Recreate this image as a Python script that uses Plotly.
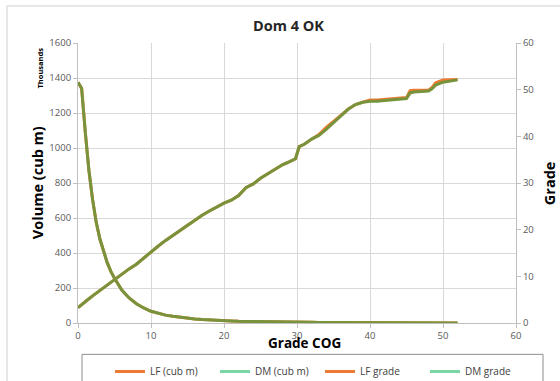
import plotly.graph_objects as go

# ---- data ----
cog = [0, 0.5, 1, 1.5, 2, 2.5, 3, 3.5, 4, 4.5, 5, 6, 7, 8, 9, 10, 11, 12, 13, 14, 15,
       16, 17, 18, 19, 20, 21, 22, 23, 24, 25, 26, 27, 28, 29, 29.8, 30.3, 31, 32, 33,
       34, 35, 36, 37, 38, 39, 40, 41, 42, 43, 44, 45, 45.5, 46, 47, 48, 48.5, 49, 50,
       51, 52]

dm_volume = [1375, 1340, 1090, 870, 705, 575, 480, 410, 345, 295, 255, 188, 143, 110, 86,
             67, 54, 45, 38, 32, 27, 23, 20, 17, 15, 13, 12, 10, 9, 8, 7, 6.5, 6, 5.5, 5,
             4.6, 4.3, 4, 3.6, 3.3, 3, 2.8, 2.6, 2.4, 2.2, 2, 1.9, 1.8, 1.7, 1.6, 1.5, 1.4,
             1.3, 1.2, 1.1, 1, 1, 0.9, 0.8, 0.7, 0.6]
lf_volume = list(dm_volume)

dm_grade = [3.3, 4.0, 4.6, 5.2, 5.8, 6.4, 7.0, 7.5, 8.1, 8.6, 9.2, 10.4, 11.6, 12.6, 13.9,
            15.4, 16.5, 17.7, 18.8, 19.9, 21.0, 22.1, 23.1, 24.0, 24.8, 25.7, 26.3, 27.3,
            29.0, 29.8, 31.0, 32.0, 33.0, 33.9, 34.6, 35.2, 37.8, 38.3, 39.4, 40.2, 41.5,
            43.0, 44.3, 45.8, 46.8, 47.3, 47.5, 47.5, 47.7, 47.8, 48.0, 48.1, 49.3, 49.5,
            49.6, 49.7, 50.2, 51.0, 51.6, 51.9, 52.1]
lf_grade = [3.3, 4.0, 4.6, 5.2, 5.8, 6.4, 7.0, 7.5, 8.1, 8.6, 9.2, 10.4, 11.6, 12.6, 13.9,
            15.4, 16.5, 17.7, 18.8, 19.9, 21.0, 22.1, 23.1, 24.0, 24.8, 25.7, 26.3, 27.3,
            29.0, 29.8, 31.0, 32.0, 33.0, 33.9, 34.6, 35.2, 37.8, 38.3, 39.4, 40.4, 41.9,
            43.3, 44.5, 45.8, 46.8, 47.3, 47.8, 47.8, 47.9, 48.0, 48.2, 48.3, 49.8, 49.9,
            49.9, 49.9, 50.5, 51.5, 52.1, 52.2, 52.2]

legend_names = ["LF (cub m)", "DM (cub m)", "LF grade", "DM grade"]

ORANGE = "#EE7B33"
MINT = "#7AD6A4"
OLIVE = "#77933C"
FONT = "Open Sans"

fig = go.Figure()

# visible curves (orange LF underneath, DM drawn on top)
fig.add_trace(go.Scatter(x=cog, y=lf_volume, mode="lines", line=dict(color=ORANGE, width=3),
                         showlegend=False, yaxis="y"))
fig.add_trace(go.Scatter(x=cog, y=lf_grade, mode="lines", line=dict(color=ORANGE, width=3),
                         showlegend=False, yaxis="y2"))
fig.add_trace(go.Scatter(x=cog, y=dm_volume, mode="lines", line=dict(color=OLIVE, width=3),
                         showlegend=False, yaxis="y"))
fig.add_trace(go.Scatter(x=cog, y=dm_grade, mode="lines", line=dict(color=OLIVE, width=3),
                         showlegend=False, yaxis="y2"))

# legend entries
for name, col in zip(legend_names, [ORANGE, MINT, ORANGE, MINT]):
    fig.add_trace(go.Scatter(x=[None], y=[None], mode="lines", name=name,
                             line=dict(color=col, width=3)))

tickfont = dict(family=FONT, size=9.5, color="#595959")
fig.update_layout(
    width=560, height=381,
    margin=dict(l=78, r=44, t=43, b=58, autoexpand=False),
    paper_bgcolor="white", plot_bgcolor="white",
    font=dict(family=FONT),
    xaxis=dict(range=[0, 60], dtick=10, showgrid=True, gridcolor="#D9D9D9", gridwidth=1,
               showline=True, linecolor="#BFBFBF", ticks="outside", ticklen=4,
               tickcolor="#BFBFBF", tickfont=tickfont, zeroline=False, automargin=False),
    yaxis=dict(range=[0, 1600], dtick=200, showgrid=True, gridcolor="#D9D9D9",
               showline=True, linecolor="#BFBFBF", ticks="outside", ticklen=4,
               tickcolor="#BFBFBF", tickfont=tickfont, zeroline=False, automargin=False),
    yaxis2=dict(range=[0, 60], dtick=10, overlaying="y", side="right", showgrid=False,
                showline=True, linecolor="#BFBFBF", ticks="outside", ticklen=4,
                tickcolor="#BFBFBF", tickfont=tickfont, zeroline=False, automargin=False),
    legend=dict(orientation="h", xref="container", yref="container",
                x=110 / 560, xanchor="left",
                y=1 - 357 / 381, yanchor="top",
                font=dict(family=FONT, size=10, color="#404040"),
                bgcolor="rgba(0,0,0,0)", entrywidth=60, entrywidthmode="pixels",
                itemwidth=30),
    showlegend=True,
)

def px(xp):
    return (xp - 78) / 438

def py(yp):
    return (322.7 - yp) / 279.7

def label(text, x, y, size, angle=0, color="#000000"):
    fig.add_annotation(text=text, x=px(x), y=py(y), xref="paper", yref="paper",
                       xanchor="center", yanchor="middle", showarrow=False, textangle=angle,
                       font=dict(family=FONT, size=size, color=color))

label("<b>Dom 4 OK</b>", 288, 25.5, 14.5, color="#262626")
label("<b>Volume (cub m)</b>", 37, 183, 14.5, angle=-90)
label("<b>Thousands</b>", 40.5, 68, 7.5, angle=-90)
label("<b>Grade</b>", 549, 183, 14.5, angle=-90)
label("<b>Grade COG</b>", 304, 343, 13.5)

# legend frame and outer chart frame
fig.add_shape(type="rect", xref="paper", yref="paper", x0=px(82), x1=px(543), y0=py(354), y1=py(395),
              line=dict(color="#8C8C8C", width=1), layer="below")
fig.add_shape(type="rect", xref="paper", yref="paper", x0=px(7), x1=px(575), y0=py(6), y1=py(400),
              line=dict(color="#D0D0D0", width=1), layer="below")

fig.write_html("out.html", config={"displayModeBar": False},
               post_script="document.body.style.margin='0';document.body.style.overflow='hidden';")
